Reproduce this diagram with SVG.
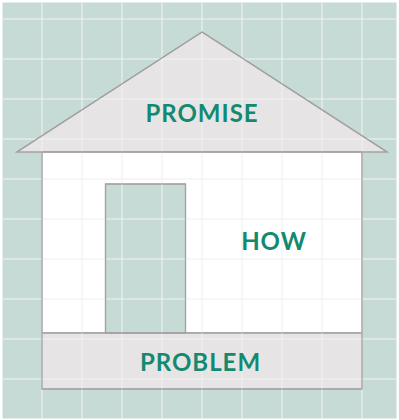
<svg xmlns="http://www.w3.org/2000/svg" width="399" height="420" viewBox="0 0 399 420">
  <defs>
    <style>
      .part { stroke: #a3a1a2; stroke-width: 1.2; }
      .grey { fill: #e6e4e5; }
      .label { font-family: Lato, "Open Sans", sans-serif; font-weight: 700; font-size: 24px; fill: #13896f; letter-spacing: 1px; text-anchor: middle; }
      .grid line { stroke: #f2f2f2; stroke-width: 1.6; opacity: 0.7; }
    </style>
  </defs>
  <rect x="0" y="0" width="399" height="420" fill="#ffffff"/>
  <rect x="2.5" y="2.5" width="394" height="416" fill="#c6dbd6"/>

  <g id="roof">
    <polygon class="part grey" points="202,32 17,152 387,152"/>
  </g>
  <g id="walls">
    <rect class="part" x="42" y="152" width="320" height="181" fill="#ffffff"/>
  </g>
  <g id="door">
    <rect class="part" x="105.5" y="184" width="80" height="149" fill="#c6dbd6"/>
  </g>
  <g id="foundation">
    <rect class="part grey" x="42" y="333" width="320" height="56"/>
  </g>

  <g class="grid">
    <line x1="42" y1="3" x2="42" y2="418"/>
    <line x1="82" y1="3" x2="82" y2="418"/>
    <line x1="122" y1="3" x2="122" y2="418"/>
    <line x1="162" y1="3" x2="162" y2="418"/>
    <line x1="202" y1="3" x2="202" y2="418"/>
    <line x1="242" y1="3" x2="242" y2="418"/>
    <line x1="282" y1="3" x2="282" y2="418"/>
    <line x1="322" y1="3" x2="322" y2="418"/>
    <line x1="362" y1="3" x2="362" y2="418"/>
    <line x1="3" y1="19" x2="396" y2="19"/>
    <line x1="3" y1="59" x2="396" y2="59"/>
    <line x1="3" y1="99" x2="396" y2="99"/>
    <line x1="3" y1="139" x2="396" y2="139"/>
    <line x1="3" y1="179" x2="396" y2="179"/>
    <line x1="3" y1="219" x2="396" y2="219"/>
    <line x1="3" y1="259" x2="396" y2="259"/>
    <line x1="3" y1="299" x2="396" y2="299"/>
    <line x1="3" y1="339" x2="396" y2="339"/>
    <line x1="3" y1="379" x2="396" y2="379"/>
  </g>

  <g id="outlines" fill="none">
    <polygon class="part" points="202,32 17,152 387,152" fill="none"/>
    <rect class="part" x="42" y="152" width="320" height="237" fill="none"/>
    <rect class="part" x="105.5" y="184" width="80" height="149" fill="none"/>
    <line class="part" x1="42" y1="333" x2="362" y2="333"/>
  </g>

  <g id="labels">
    <text class="label" x="202" y="121.5">PROMISE</text>
    <text class="label" x="274" y="250">HOW</text>
    <text class="label" x="200.5" y="371">PROBLEM</text>
  </g>
</svg>
